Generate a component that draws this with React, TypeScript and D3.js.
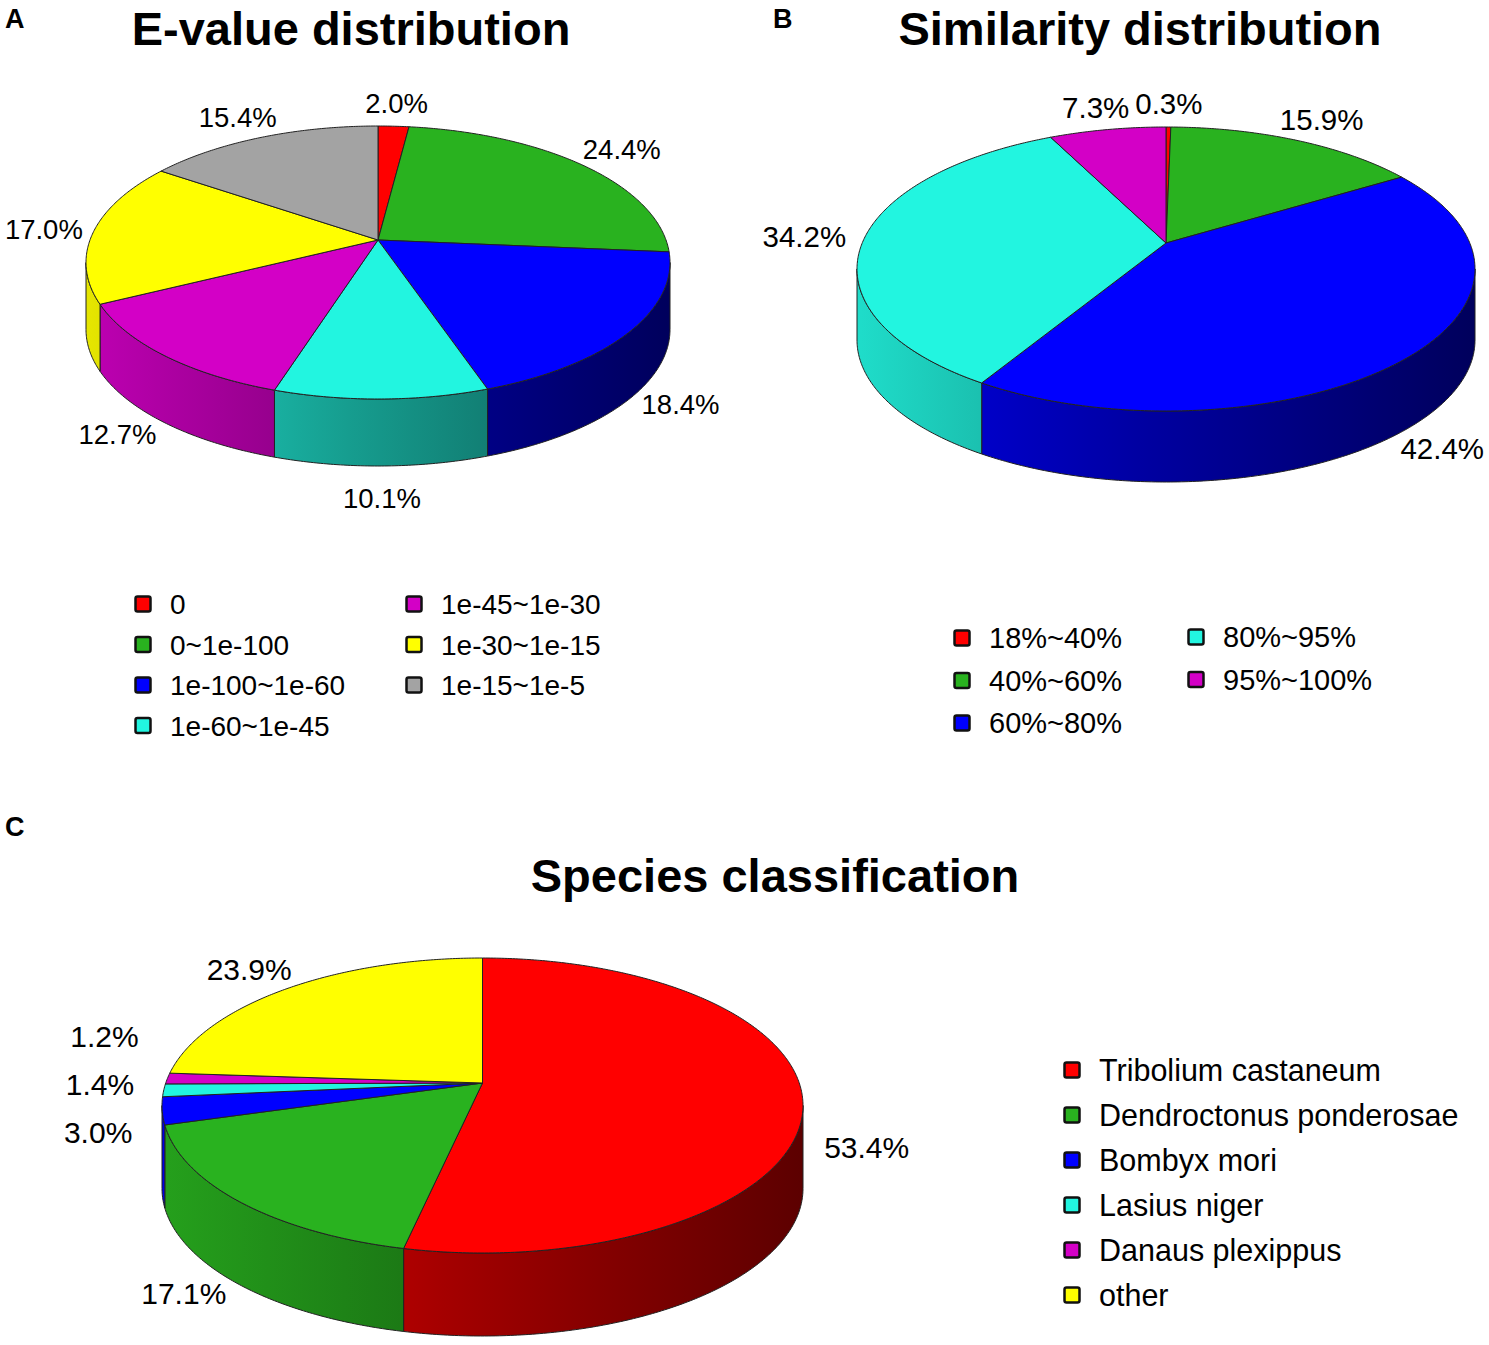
import * as d3 from 'd3';

// ---- data ----
const evalueLabels = ['0', '0~1e-100', '1e-100~1e-60', '1e-60~1e-45', '1e-45~1e-30', '1e-30~1e-15', '1e-15~1e-5'];
const evalueValues = [2.0, 24.4, 18.4, 10.1, 12.7, 17.0, 15.4];
const evalueColors = ['#ff0000', '#29b21f', '#0000ff', '#22f5e0', '#d300c6', '#ffff00', '#a3a3a3'];

const simLabels = ['18%~40%', '40%~60%', '60%~80%', '80%~95%', '95%~100%'];
const simValues = [0.3, 15.9, 42.4, 34.2, 7.3];
const simColors = ['#ff0000', '#29b21f', '#0000ff', '#22f5e0', '#d300c6'];

const speciesLabels = ['Tribolium castaneum', 'Dendroctonus ponderosae', 'Bombyx mori', 'Lasius niger', 'Danaus plexippus', 'other'];
const speciesValues = [53.4, 17.1, 3.0, 1.4, 1.2, 23.9];
const speciesColors = ['#ff0000', '#29b21f', '#0000ff', '#22f5e0', '#d300c6', '#ffff00'];

const FONT = 'Liberation Sans, Arial, Helvetica, sans-serif';
const WIDTH = 1489;
const HEIGHT = 1345;

interface PieGeom {
    id: string;
    cx: number;      // projected centre x
    cy: number;      // projected centre (apex) y
    halfW: number;   // half width of the top ellipse
    top: number;     // distance centre -> far edge
    bottom: number;  // distance centre -> near edge
    depth: number;
    labelSize: number;
}

// perspective disc: far edge compressed, near edge stretched
function makeProj(g: PieGeom) {
    const p = (g.bottom - g.top) / (g.bottom + g.top);
    const b = g.top * (1 + p);
    const a = g.halfW * Math.sqrt(1 - p * p);
    const proj = (theta: number, k = 1): [number, number] => {
        const u = Math.sin(theta);
        const v = -Math.cos(theta);
        const d = 1 - p * v;
        return [g.cx + (k * a * u) / d, g.cy + (k * b * v) / d];
    };
    return { proj, p };
}

// rough silhouette test (top ellipse swept down by depth)
function insidePie(g: PieGeom, x: number, y: number, pad: number) {
    const ecy = g.cy + (g.bottom - g.top) / 2;
    const erx = g.halfW + pad;
    const ery = (g.top + g.bottom) / 2 + pad;
    const inEll = (yy: number) => ((x - g.cx) / erx) ** 2 + ((yy - ecy) / ery) ** 2 <= 1;
    if (inEll(y) || inEll(y - g.depth)) return true;
    return Math.abs(x - g.cx) < erx && y > ecy && y < ecy + g.depth;
}

const line = d3.line();

function sample(a0: number, a1: number) {
    const n = Math.max(2, Math.ceil(Math.abs(a1 - a0) / 0.01));
    return d3.range(n + 1).map(i => a0 + ((a1 - a0) * i) / n);
}

function shade(c: string, k: number) {
    const rgb = d3.rgb(c);
    return d3.rgb(rgb.r * k, rgb.g * k, rgb.b * k).formatHex();
}

function Pie3D({ g, values, colors }: { g: PieGeom; values: number[]; colors: string[] }) {
    const { proj, p } = makeProj(g);
    const arcs = d3.pie<number>().sort(null).value(d => d)(values);
    const t1 = Math.acos(-p);
    const t2 = 2 * Math.PI - t1;

    const sides = arcs.map((arc, i) => {
        const s = Math.max(arc.startAngle, t1);
        const e = Math.min(arc.endAngle, t2);
        if (e <= s) return null;
        const topPts = sample(s, e).map(t => proj(t));
        const botPts = topPts.map(([x, y]) => [x, y + g.depth] as [number, number]).reverse();
        return { i, d: line([...topPts, ...botPts])! + 'Z' };
    });

    const tops = arcs.map((arc, i) => {
        const pts = sample(arc.startAngle, arc.endAngle).map(t => proj(t));
        return { i, d: line([[g.cx, g.cy], ...pts])! + 'Z' };
    });

    // labels
    const labels = arcs.map((arc, i) => {
        const m = (arc.startAngle + arc.endAngle) / 2;
        const [x0, y0] = proj(m, 1.2);
        const v = -Math.cos(m);
        const right = Math.sin(m) > 0;
        const drop = v > 0 ? g.depth * (right ? 0.5 + 0.5 * v : v) : 0;
        const text = `${values[i].toFixed(1)}%`;
        const halfW = (text.length * 0.58 * g.labelSize) / 2;
        const halfH = 0.38 * g.labelSize;
        const clampX = (x: number) => Math.min(Math.max(x, halfW + 4), WIDTH - halfW - 4);
        let x = clampX(x0);
        let y = y0 + drop;
        // step outwards until the text box clears the pie
        const dx = Math.sin(m);
        const dy = v;
        for (let step = 0; step < 40; step++) {
            const hit = [[-1, -1], [1, -1], [-1, 1], [1, 1], [0, -1], [0, 1]]
                .some(([sx, sy]) => insidePie(g, x + sx * halfW, y + sy * halfH, 3));
            if (!hit) break;
            x = clampX(x + dx * 2);
            y += dy * 2;
        }
        return { i, x, y, left: !right, text };
    });
    // keep crowded labels on the left side apart, pushing upwards
    const gap = g.labelSize * 1.6;
    const leftSide = labels.filter(l => l.left).sort((a, b) => b.y - a.y);
    for (let j = 1; j < leftSide.length; j++) {
        const prev = leftSide[j - 1];
        const cur = leftSide[j];
        if (Math.abs(cur.x - prev.x) < g.labelSize * 3 && prev.y - cur.y < gap) cur.y = prev.y - gap;
    }

    return (
        <g>
            <defs>
                {colors.map((c, i) => (
                    <linearGradient key={i} id={`${g.id}-side-${i}`} gradientUnits="userSpaceOnUse"
                        x1={g.cx - g.halfW} x2={g.cx + g.halfW} y1={0} y2={0}>
                        <stop offset="0%" stopColor={shade(c, 0.9)} />
                        <stop offset="45%" stopColor={shade(c, 0.64)} />
                        <stop offset="100%" stopColor={shade(c, 0.36)} />
                    </linearGradient>
                ))}
            </defs>
            {sides.map(s => s && (
                <path key={`s${s.i}`} d={s.d} fill={`url(#${g.id}-side-${s.i})`} stroke="#222" strokeWidth={1} strokeLinejoin="round" />
            ))}
            {tops.map(t => (
                <path key={`t${t.i}`} d={t.d} fill={colors[t.i]} stroke="#222" strokeWidth={1} strokeLinejoin="round" />
            ))}
            {labels.map(l => (
                <text key={`l${l.i}`} x={l.x} y={l.y} dy="0.36em" textAnchor="middle"
                    fontFamily={FONT} fontSize={g.labelSize} fill="#000">{l.text}</text>
            ))}
        </g>
    );
}

function Legend({ labels, colors, cols, size }: {
    labels: string[]; colors: string[]; size: number;
    cols: { x: number; y: number; step: number; count: number }[];
}) {
    const items: { label: string; color: string; x: number; y: number }[] = [];
    let idx = 0;
    cols.forEach(c => {
        for (let r = 0; r < c.count && idx < labels.length; r++, idx++) {
            items.push({ label: labels[idx], color: colors[idx], x: c.x, y: c.y + r * c.step });
        }
    });
    return (
        <g>
            {items.map(it => (
                <g key={it.label}>
                    <rect x={it.x - 7.5} y={it.y - 7.5} width={15} height={15} rx={2}
                        fill={it.color} stroke="#111" strokeWidth={2.5} />
                    <text x={it.x + 27} y={it.y} dy="0.36em" fontFamily={FONT} fontSize={size} fill="#000">{it.label}</text>
                </g>
            ))}
        </g>
    );
}

const pieA: PieGeom = { id: 'pa', cx: 378, cy: 240, halfW: 292, top: 114, bottom: 159, depth: 67, labelSize: 27.5 };
const pieB: PieGeom = { id: 'pb', cx: 1166, cy: 243, halfW: 309, top: 116, bottom: 168, depth: 71, labelSize: 29.5 };
const pieC: PieGeom = { id: 'pc', cx: 482.5, cy: 1083, halfW: 320.5, top: 125, bottom: 170, depth: 83, labelSize: 30 };

export default function App() {
    return (
        <div style={{ position: 'absolute', left: 0, top: 0 }}>
            <svg width={WIDTH} height={HEIGHT} style={{ display: 'block', background: '#fff' }}>
                <rect width={WIDTH} height={HEIGHT} fill="#fff" />

                <text x={5} y={28} fontFamily={FONT} fontWeight="bold" fontSize={27}>A</text>
                <text x={773} y={28} fontFamily={FONT} fontWeight="bold" fontSize={27}>B</text>
                <text x={5} y={836} fontFamily={FONT} fontWeight="bold" fontSize={27}>C</text>

                <text x={351} y={45} textAnchor="middle" fontFamily={FONT} fontWeight="bold" fontSize={47}>E-value distribution</text>
                <text x={1140} y={45} textAnchor="middle" fontFamily={FONT} fontWeight="bold" fontSize={47}>Similarity distribution</text>
                <text x={775} y={892} textAnchor="middle" fontFamily={FONT} fontWeight="bold" fontSize={47}>Species classification</text>

                <Pie3D g={pieA} values={evalueValues} colors={evalueColors} />
                <Pie3D g={pieB} values={simValues} colors={simColors} />
                <Pie3D g={pieC} values={speciesValues} colors={speciesColors} />

                <Legend labels={evalueLabels} colors={evalueColors} size={28}
                    cols={[{ x: 143, y: 604, step: 40.5, count: 4 }, { x: 414, y: 604, step: 40.5, count: 3 }]} />
                <Legend labels={simLabels} colors={simColors} size={29}
                    cols={[{ x: 962, y: 638, step: 42.5, count: 3 }, { x: 1196, y: 637, step: 42.5, count: 2 }]} />
                <Legend labels={speciesLabels} colors={speciesColors} size={30.5}
                    cols={[{ x: 1072, y: 1070, step: 45, count: 6 }]} />
            </svg>
        </div>
    );
}
